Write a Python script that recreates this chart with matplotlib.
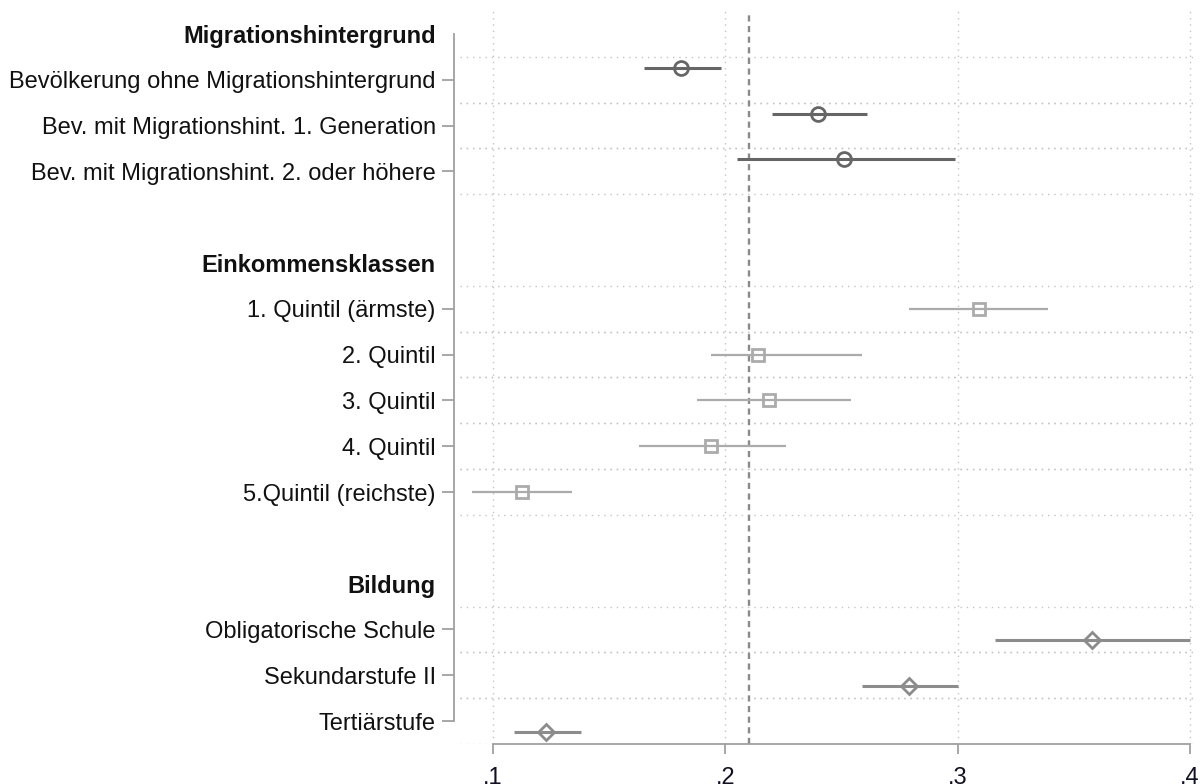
import numpy as np
import matplotlib
matplotlib.use('Agg')
import matplotlib.pyplot as plt

plt.rcParams['font.family'] = ['Liberation Sans', 'DejaVu Sans']

# group headings
headings = ['Migrationshintergrund', 'Einkommensklassen', 'Bildung']

# Migrationshintergrund
mig_labels = ['Bevölkerung ohne Migrationshintergrund',
              'Bev. mit Migrationshint. 1. Generation',
              'Bev. mit Migrationshint. 2. oder höhere']
mig_est = [0.181, 0.240, 0.251]
mig_lo = [0.165, 0.220, 0.205]
mig_hi = [0.198, 0.261, 0.299]

# Einkommensklassen
inc_labels = ['1. Quintil (ärmste)', '2. Quintil', '3. Quintil', '4. Quintil',
              '5.Quintil (reichste)']
inc_est = [0.309, 0.214, 0.219, 0.194, 0.1125]
inc_lo = [0.279, 0.194, 0.188, 0.163, 0.091]
inc_hi = [0.339, 0.259, 0.254, 0.226, 0.134]

# Bildung
edu_labels = ['Obligatorische Schule', 'Sekundarstufe II', 'Tertiärstufe']
edu_est = [0.358, 0.279, 0.123]
edu_lo = [0.316, 0.259, 0.109]
edu_hi = [0.400, 0.300, 0.138]

ref_value = 0.21
xticks = [0.1, 0.2, 0.3, 0.4]
xticklabels = ['.1', '.2', '.3', '.4']

groups = [
    (mig_labels, mig_est, mig_lo, mig_hi, 'o', '#666666', 2.2, -0.26, 10),
    (inc_labels, inc_est, inc_lo, inc_hi, 's', '#ababab', 1.6, 0.0, 9),
    (edu_labels, edu_est, edu_lo, edu_hi, 'D', '#8c8c8c', 2.2, 0.24, 8.5),
]

# build row layout: heading, categories, blank row between groups
tick_pos, tick_lab, is_head, cat_rows = [], [], [], []
row = 0
for gi, (labs, est, lo, hi, mk, col, lw, off, ms) in enumerate(groups):
    tick_pos.append(row)
    tick_lab.append(headings[gi])
    is_head.append(True)
    row += 1
    rows = []
    for lab in labs:
        tick_pos.append(row)
        tick_lab.append(lab)
        is_head.append(False)
        rows.append(row)
        row += 1
    cat_rows.append(rows)
    row += 1
last_row = tick_pos[-1]

fig = plt.figure(figsize=(12.01, 7.84), dpi=100)
ax = fig.add_axes([460 / 1201, 40 / 784, 733 / 1201, 733 / 784])

# dotted grid
for rows in cat_rows:
    for r in rows:
        for b in (r - 0.5, r + 0.5):
            ax.axhline(b, color='#c4c4c4', lw=1.0, ls=(0, (1, 3.5)), zorder=0)
for xt in xticks:
    ax.axvline(xt, color='#c4c4c4', lw=1.0, ls=(0, (1, 3.5)), zorder=0)

ax.axvline(ref_value, color='#8a8a8a', lw=1.7, ls=(0, (2.6, 1.9)), zorder=1)

for (labs, est, lo, hi, mk, col, lw, off, ms), rows in zip(groups, cat_rows):
    y = np.array(rows) + off
    ax.hlines(y, lo, hi, color=col, lw=lw, zorder=2)
    ax.plot(est, y, ls='none', marker=mk, ms=ms, mfc='none', mec=col,
            mew=2.0, zorder=3)

ax.set_xlim(0.0858, 0.4013)
ax.set_ylim(last_row + 0.5, -0.5)

for s in ('top', 'right'):
    ax.spines[s].set_visible(False)
ax.spines['left'].set_position(('outward', 4))
ax.spines['left'].set_bounds(0, last_row)
ax.spines['bottom'].set_bounds(0.1, 0.4)
for s in ('left', 'bottom'):
    ax.spines[s].set_color('#a0a0a0')
    ax.spines[s].set_linewidth(1.3)

ax.set_yticks(tick_pos)
ax.set_yticklabels(tick_lab)
ax.tick_params(axis='y', length=8.5, width=1.3, color='#a0a0a0', pad=5,
               labelsize=17, labelcolor='#111111')
for t, h in zip(ax.yaxis.get_major_ticks(), is_head):
    if h:
        t.tick1line.set_visible(False)
        t.label1.set_fontweight('bold')

ax.set_xticks(xticks)
ax.set_xticklabels(xticklabels)
ax.tick_params(axis='x', length=7.5, width=1.3, color='#a0a0a0', pad=9,
               labelsize=17, labelcolor='#111122')

fig.savefig('out.png', dpi=100)
